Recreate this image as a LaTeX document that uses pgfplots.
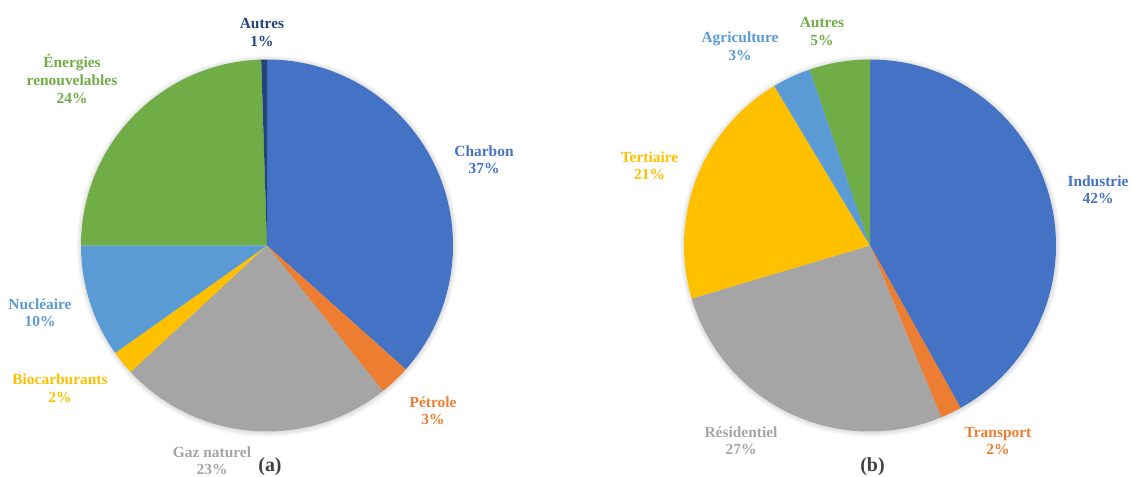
\documentclass[border=0pt]{standalone}
\usepackage{pgfplots}
\usepackage{pgfplotstable}
\pgfplotsset{compat=1.18}
\usepackage{fontspec}
\setmainfont{Liberation Serif}

\definecolor{cBlue}{HTML}{4472C4}
\definecolor{cOrange}{HTML}{ED7D31}
\definecolor{cGray}{HTML}{A5A5A5}
\definecolor{cYellow}{HTML}{FFC000}
\definecolor{cLBlue}{HTML}{5B9BD5}
\definecolor{cGreen}{HTML}{70AD47}
\definecolor{cDark}{HTML}{264478}
\definecolor{cText}{HTML}{404040}

% (a) energy sources, % (clockwise from top)
\pgfplotstableread[col sep=comma]{
value,color
36.6,cBlue
2.7,cOrange
23.8,cGray
2.1,cYellow
9.8,cLBlue
24.5,cGreen
0.5,cDark
}\dataA

% (b) consumption sectors, %
\pgfplotstableread[col sep=comma]{
value,color
41.9,cBlue
1.85,cOrange
26.65,cGray
21.0,cYellow
3.35,cLBlue
5.25,cGreen
}\dataB

\newcommand\drawpie[4]{%
  \foreach \k in {1,...,6}{%
    \fill[black,opacity=0.02] (axis cs:{#2+0.3},{#3-0.6}) circle[radius=#4+\k*0.8bp];
  }%
  \pgfplotstablegetrowsof{#1}%
  \pgfmathtruncatemacro\lastrow{\pgfplotsretval-1}%
  \xdef\angA{90}%
  \foreach \i in {0,...,\lastrow}{%
    \pgfplotstablegetelem{\i}{value}\of{#1}\let\val\pgfplotsretval
    \pgfplotstablegetelem{\i}{color}\of{#1}\let\col\pgfplotsretval
    \pgfmathsetmacro\angB{\angA-3.6*\val}%
    \fill[color=\col] (axis cs:#2,#3) -- ++(\angA:#4) arc[start angle=\angA,end angle=\angB,radius=#4] -- cycle;
    \xdef\angA{\angB}%
  }%
}

\tikzset{lbl/.style={anchor=base,font=\bfseries\fontsize{15.5}{18}\selectfont,inner sep=0pt}}
\newcommand\lab[5]{%
  \node[lbl,text=#5] at (axis cs:#1,{477-#2}) {#3};
  \node[lbl,text=#5] at (axis cs:#1,{477-#2-17.5}) {#4};
}

\begin{document}
\begin{tikzpicture}
\useasboundingbox (0,0) rectangle (1131bp,477bp);
\begin{axis}[hide axis, x=1bp, y=1bp, xmin=0, xmax=1131, ymin=0, ymax=477,
  clip=false, scale only axis, anchor=south west, at={(0,0)}]
\pgfplotsextra{%
  \drawpie{\dataA}{267}{231.5}{186bp}%
  \drawpie{\dataB}{870}{231.5}{186bp}%
}
% labels (a)
\lab{262}{29}{Autres}{1\%}{cDark}
\node[lbl,text=cGreen] at (axis cs:72,{477-68}) {Énergies};
\lab{72}{86}{renouvelables}{24\%}{cGreen}
\lab{484}{156}{Charbon}{37\%}{cBlue}
\lab{40}{309}{Nucléaire}{10\%}{cLBlue}
\lab{60}{384.5}{Biocarburants}{2\%}{cYellow}
\lab{433}{407}{Pétrole}{3\%}{cOrange}
\lab{212}{457}{Gaz naturel}{23\%}{cGray}
\node[anchor=base,inner sep=0pt,text=cText,font=\bfseries\fontsize{20}{24}\selectfont] at (axis cs:270,{477-471}) {(a)};
% labels (b)
\lab{740}{43}{Agriculture}{3\%}{cLBlue}
\lab{822}{28}{Autres}{5\%}{cGreen}
\lab{649.5}{162}{Tertiaire}{21\%}{cYellow}
\lab{1098}{186}{Industrie}{42\%}{cBlue}
\lab{741}{437}{Résidentiel}{27\%}{cGray}
\lab{998}{437}{Transport}{2\%}{cOrange}
\node[anchor=base,inner sep=0pt,text=cText,font=\bfseries\fontsize{20}{24}\selectfont] at (axis cs:872.5,{477-471}) {(b)};
\end{axis}
\end{tikzpicture}
\end{document}
